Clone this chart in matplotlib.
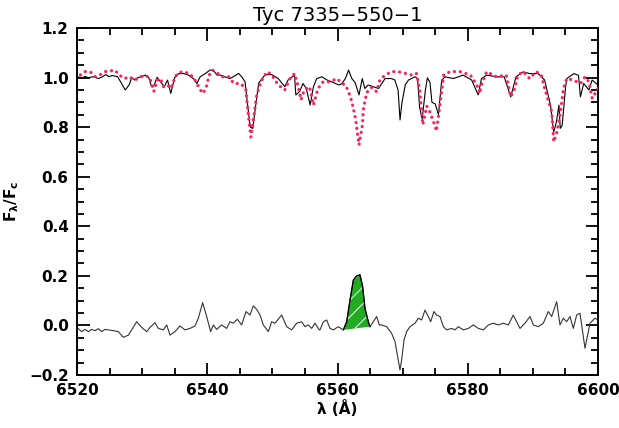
import numpy as np
import matplotlib
matplotlib.use("Agg")
import matplotlib.pyplot as plt
from matplotlib.ticker import MultipleLocator

obs_wave = [6519.7, 6520.2, 6520.8, 6521.3, 6521.8, 6522.3, 6522.8, 6523.3, 6523.9, 6524.4,
            6524.9, 6525.4, 6526.2, 6526.7, 6527.4, 6528.0, 6528.4, 6528.9, 6529.4, 6530.0,
            6530.5, 6531.0, 6531.4, 6531.8, 6532.3, 6532.8, 6533.4, 6533.9, 6534.4, 6535.0,
            6535.6, 6536.4, 6537.1, 6537.9, 6538.4, 6538.9, 6539.7, 6540.4, 6540.9, 6541.5,
            6542.0, 6542.7, 6543.5, 6544.3, 6544.8, 6545.3, 6545.8, 6546.2, 6546.6, 6547.0,
            6547.4, 6547.9, 6548.4, 6548.9, 6549.9, 6550.9, 6551.9, 6552.4, 6553.4, 6553.6,
            6554.2, 6554.7, 6555.2, 6555.8, 6556.3, 6556.8, 6557.6, 6558.4, 6559.1, 6560.2,
            6560.7, 6561.2, 6561.7, 6562.2, 6562.7, 6563.3, 6563.8, 6564.2, 6564.7, 6565.5,
            6566.3, 6567.3, 6568.3, 6568.8, 6569.3, 6569.6, 6569.9, 6570.4, 6570.9, 6571.9,
            6572.3, 6572.6, 6573.0, 6573.5, 6573.8, 6574.2, 6574.5, 6575.0, 6575.5, 6576.0,
            6576.5, 6577.8, 6579.3, 6580.6, 6581.6, 6582.1, 6582.9, 6584.4, 6585.6, 6586.6,
            6587.4, 6588.5, 6589.5, 6590.8, 6591.8, 6592.7, 6593.2, 6593.6, 6594.0, 6594.2,
            6594.5, 6595.0, 6595.2, 6596.3, 6597.0, 6597.3, 6597.8, 6598.6, 6599.1, 6600.0]
obs_flux = [1.001, 1.002, 1.000, 1.004, 0.999, 1.003, 1.001, 0.996, 1.003, 1.012,
            1.004, 1.008, 1.004, 0.983, 0.950, 0.970, 1.000, 0.990, 1.000, 1.004,
            1.010, 1.001, 0.967, 0.967, 1.001, 0.984, 0.963, 0.990, 0.936, 1.000,
            1.016, 1.016, 1.010, 0.995, 0.976, 1.003, 1.016, 1.030, 1.030, 1.010,
            1.010, 1.003, 0.996, 1.008, 1.017, 1.003, 0.983, 0.889, 0.800, 0.795,
            0.880, 0.978, 0.995, 1.012, 1.012, 0.996, 0.963, 0.990, 1.010, 0.930,
            0.944, 0.976, 0.956, 0.889, 0.963, 0.996, 1.003, 0.990, 0.983, 0.970,
            0.976, 0.996, 1.030, 0.996, 0.980, 0.930, 0.996, 0.956, 0.970, 0.963,
            0.956, 0.996, 0.996, 0.990, 0.950, 0.829, 0.900, 0.970, 0.990, 1.003,
            0.996, 0.880, 0.834, 0.950, 0.999, 0.980, 0.900, 0.894, 0.851, 0.990,
            1.003, 0.996, 1.010, 0.990, 0.930, 0.996, 1.010, 1.003, 1.003, 0.922,
            1.003, 1.023, 1.016, 1.016, 0.990, 0.889, 0.780, 0.820, 0.889, 0.795,
            0.808, 0.956, 0.996, 1.016, 1.009, 0.922, 0.976, 0.950, 0.990, 0.970]

# model spectrum (red dotted)
mod_wave = [6519.7, 6520.5, 6521.2, 6522.0, 6522.8, 6523.5, 6524.3, 6525.0, 6525.8, 6526.5,
            6527.3, 6528.0, 6528.9, 6529.7, 6530.5, 6531.2, 6531.8, 6532.3, 6532.8, 6533.3,
            6533.9, 6534.4, 6534.9, 6535.4, 6536.2, 6537.2, 6538.0, 6538.8, 6539.3, 6539.8,
            6540.3, 6540.8, 6541.6, 6542.3, 6543.3, 6544.1, 6545.1, 6545.9, 6546.3, 6546.7,
            6547.6, 6548.1, 6548.6, 6549.3, 6550.1, 6550.9, 6551.9, 6552.7, 6553.4, 6553.9,
            6554.4, 6554.9, 6555.7, 6556.3, 6557.0, 6557.8, 6558.9, 6559.9, 6560.7, 6561.2,
            6561.7, 6562.2, 6562.8, 6563.3, 6563.8, 6564.0, 6564.5, 6565.2, 6566.0, 6566.5,
            6567.3, 6568.3, 6569.3, 6570.4, 6571.4, 6572.1, 6572.6, 6573.1, 6573.7, 6574.2,
            6574.9, 6575.2, 6575.8, 6576.3, 6577.3, 6578.8, 6580.4, 6581.4, 6581.8, 6582.1,
            6582.9, 6584.4, 6585.9, 6586.6, 6587.2, 6587.7, 6588.5, 6589.5, 6590.5, 6591.3,
            6591.8, 6592.9, 6593.2, 6593.7, 6594.2, 6594.7, 6595.2, 6596.2, 6597.3, 6598.0,
            6598.6, 6599.1, 6600.0]
mod_flux = [1.001, 1.010, 1.024, 1.024, 1.004, 1.010, 1.024, 1.026, 1.030, 1.010,
            0.996, 1.003, 0.990, 1.003, 1.010, 0.996, 0.944, 0.990, 0.996, 0.963,
            0.970, 0.956, 0.990, 1.017, 1.024, 1.017, 0.996, 0.956, 0.936, 0.956,
            1.010, 1.030, 1.017, 1.003, 1.003, 0.976, 0.976, 0.956, 0.850, 0.760,
            0.930, 0.970, 1.003, 1.024, 1.003, 0.970, 0.950, 0.996, 1.016, 0.970,
            0.910, 0.950, 0.963, 0.889, 0.956, 0.983, 0.983, 0.996, 0.976, 0.970,
            0.943, 0.903, 0.829, 0.728, 0.805, 0.879, 0.940, 0.960, 0.943, 0.990,
            1.010, 1.024, 1.024, 1.017, 1.010, 1.017, 0.956, 0.810, 0.885, 0.860,
            0.810, 0.784, 0.905, 1.010, 1.024, 1.024, 1.010, 0.970, 0.935, 0.970,
            1.024, 1.003, 1.010, 0.922, 0.956, 1.010, 1.024, 0.996, 1.024, 1.010,
            0.956, 0.862, 0.741, 0.781, 0.855, 0.956, 0.996, 0.990, 0.976, 1.003,
            0.983, 0.916, 0.956]

# difference spectrum (lower trace)
diff_wave = [6520.00, 6520.72, 6521.23, 6521.74, 6522.25, 6522.76, 6523.28, 6523.79, 6524.30, 6524.81,
             6525.58, 6526.35, 6527.11, 6527.88, 6528.39, 6529.16, 6529.93, 6530.70, 6531.21, 6531.98,
             6532.49, 6533.25, 6533.77, 6534.28, 6535.05, 6535.81, 6536.58, 6537.35, 6538.12, 6538.63,
             6539.29, 6539.91, 6540.52, 6540.93, 6541.44, 6542.21, 6542.98, 6543.49, 6544.00, 6544.62,
             6545.28, 6545.95, 6546.56, 6547.07, 6547.58, 6548.10, 6548.61, 6549.38, 6549.89, 6550.40,
             6551.42, 6552.19, 6552.96, 6553.73, 6554.49, 6555.01, 6555.52, 6556.03, 6556.54, 6557.21,
             6557.31, 6557.82, 6558.33, 6558.85, 6559.36, 6560.13, 6560.89, 6561.41, 6561.92, 6562.43,
             6562.94, 6563.45, 6563.86, 6564.22, 6564.73, 6564.99, 6565.50, 6566.01, 6566.42, 6566.78,
             6567.55, 6568.31, 6568.83, 6569.24, 6569.59, 6569.85, 6570.21, 6570.62, 6571.13, 6571.90,
             6572.41, 6572.92, 6573.43, 6573.94, 6574.30, 6574.81, 6575.22, 6575.74, 6576.25, 6576.76,
             6577.53, 6578.04, 6578.55, 6579.32, 6580.09, 6580.85, 6581.62, 6582.39, 6583.16, 6583.92,
             6584.69, 6585.46, 6586.23, 6586.99, 6587.51, 6588.02, 6588.79, 6589.55, 6590.07, 6590.83,
             6591.60, 6592.37, 6592.88, 6593.65, 6594.16, 6594.67, 6595.18, 6595.70, 6596.21, 6596.72,
             6597.23, 6597.74, 6598.00, 6598.36, 6598.77, 6599.53, 6600.05]
diff_flux = [-0.008, -0.025, -0.016, -0.025, -0.016, -0.021, -0.013, -0.025, -0.016, -0.018,
             -0.021, -0.025, -0.048, -0.039, -0.018, 0.015, -0.008, -0.025, -0.008, 0.011,
             -0.012, -0.018, 0.002, -0.039, -0.025, -0.002, -0.018, -0.012, -0.002, 0.029,
             0.092, 0.036, -0.025, 0.002, -0.016, 0.002, -0.012, 0.015, 0.009, 0.025,
             0.002, 0.056, 0.042, 0.079, 0.065, 0.042, 0.002, -0.025, 0.015, 0.009,
             0.042, -0.005, -0.018, 0.009, 0.015, -0.005, 0.002, -0.012, 0.009, -0.018,
             -0.018, 0.015, 0.022, -0.012, -0.018, -0.005, -0.018, 0.015, 0.103, 0.183,
             0.200, 0.204, 0.157, 0.069, 0.015, -0.005, 0.015, 0.036, 0.002, 0.002,
             -0.005, -0.032, -0.065, -0.126, -0.180, -0.139, -0.059, -0.025, -0.005, 0.009,
             0.029, 0.022, 0.062, 0.036, 0.015, 0.056, 0.042, 0.036, -0.005, -0.018,
             -0.012, -0.018, -0.005, -0.018, -0.012, 0.002, -0.012, -0.018, 0.002, 0.009,
             0.002, 0.009, 0.002, 0.042, 0.015, -0.012, 0.009, 0.036, 0.002, -0.005,
             0.009, 0.056, 0.036, 0.096, 0.002, 0.029, 0.015, 0.036, -0.012, 0.042,
             0.049, -0.045, -0.092, -0.045, 0.009, 0.029, 0.022]

# H-alpha emission window (shaded)
ha_lo, ha_hi = 6560.85, 6565.0

fig = plt.figure(figsize=(6.19, 4.28), dpi=100)
ax = fig.add_axes([0.1244, 0.1238, 0.8417, 0.8108])

ax.plot(mod_wave, mod_flux, color="#ff1f5a", linestyle=(0, (0.05, 1.8)),
        linewidth=2.3, dash_capstyle="round", zorder=3)
ax.plot(obs_wave, obs_flux, color="black", linewidth=0.8, zorder=2)
ax.plot(diff_wave, diff_flux, color="#333333", linewidth=0.8, zorder=2)

# emission area above the local baseline
dw = np.array(diff_wave)
df = np.array(diff_flux)
sel = (dw >= ha_lo) & (dw <= ha_hi)
ew = dw[sel]
ef = df[sel]
base = np.interp(ew, [ew[0], ew[-1]], [ef[0], ef[-1]])
plt.rcParams["hatch.linewidth"] = 0.8
ax.fill_between(ew, base, ef, facecolor="#22aa22", edgecolor="#d8f0d8",
                hatch="//", linewidth=0, zorder=1)
ax.plot(ew, ef, color="black", linewidth=0.9, zorder=2)

ax.set_xlim(6520, 6600)
ax.set_ylim(-0.2, 1.2)
ax.xaxis.set_major_locator(MultipleLocator(20))
ax.xaxis.set_minor_locator(MultipleLocator(5))
ax.yaxis.set_major_locator(MultipleLocator(0.2))
ax.yaxis.set_minor_locator(MultipleLocator(0.05))
ax.yaxis.set_major_formatter(plt.FuncFormatter(lambda v, p: f"{v:.1f}".replace("-", "\u2212")))
ax.tick_params(which="both", direction="in", top=True, right=True, width=1.3)
ax.tick_params(which="major", length=9, labelsize=11, pad=6)
ax.tick_params(which="minor", length=5)
for lab in ax.get_xticklabels() + ax.get_yticklabels():
    lab.set_fontweight("bold")
for sp in ax.spines.values():
    sp.set_linewidth(1.4)

ax.set_title("Tyc 7335\u2212550\u22121", fontsize=14, pad=5)
ax.set_xlabel("\u03bb (\u00c5)", fontsize=11, fontweight="bold", labelpad=1)
ax.set_ylabel(r"$\mathbf{F_\lambda/F_c}$", fontsize=11, labelpad=6)

plt.savefig("out.png", dpi=100)
